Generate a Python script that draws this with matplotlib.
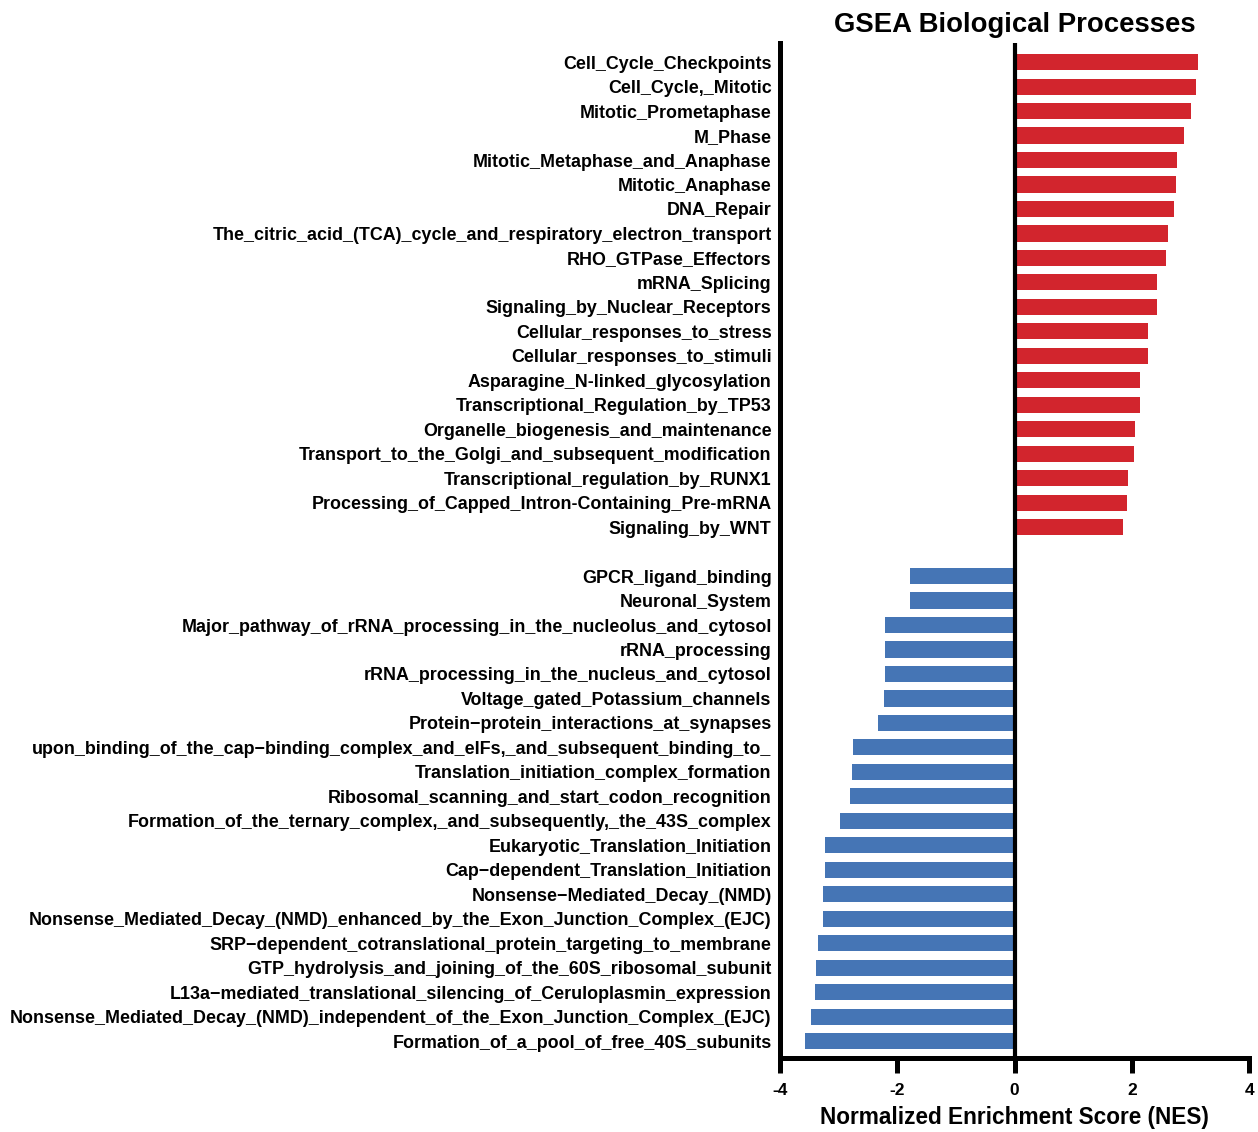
import numpy as np
import matplotlib
matplotlib.use("Agg")
import matplotlib.pyplot as plt

plt.rcParams['font.family'] = ['Liberation Sans', 'DejaVu Sans']
plt.rcParams['font.weight'] = 'bold'

# up-regulated pathways (positive NES)
up_terms = [
    "Cell_Cycle_Checkpoints",
    "Cell_Cycle,_Mitotic",
    "Mitotic_Prometaphase",
    "M_Phase",
    "Mitotic_Metaphase_and_Anaphase",
    "Mitotic_Anaphase",
    "DNA_Repair",
    "The_citric_acid_(TCA)_cycle_and_respiratory_electron_transport",
    "RHO_GTPase_Effectors",
    "mRNA_Splicing",
    "Signaling_by_Nuclear_Receptors",
    "Cellular_responses_to_stress",
    "Cellular_responses_to_stimuli",
    "Asparagine_N-linked_glycosylation",
    "Transcriptional_Regulation_by_TP53",
    "Organelle_biogenesis_and_maintenance",
    "Transport_to_the_Golgi_and_subsequent_modification",
    "Transcriptional_regulation_by_RUNX1",
    "Processing_of_Capped_Intron-Containing_Pre-mRNA",
    "Signaling_by_WNT",
]
up_nes = [3.13, 3.10, 3.01, 2.88, 2.77, 2.76, 2.72, 2.62, 2.58, 2.43,
          2.43, 2.28, 2.28, 2.14, 2.14, 2.06, 2.04, 1.94, 1.92, 1.84]

# down-regulated pathways (negative NES)
down_terms = [
    "GPCR_ligand_binding",
    "Neuronal_System",
    "Major_pathway_of_rRNA_processing_in_the_nucleolus_and_cytosol",
    "rRNA_processing",
    "rRNA_processing_in_the_nucleus_and_cytosol",
    "Voltage_gated_Potassium_channels",
    "Protein\u2212protein_interactions_at_synapses",
    "upon_binding_of_the_cap\u2212binding_complex_and_eIFs,_and_subsequent_binding_to_",
    "Translation_initiation_complex_formation",
    "Ribosomal_scanning_and_start_codon_recognition",
    "Formation_of_the_ternary_complex,_and_subsequently,_the_43S_complex",
    "Eukaryotic_Translation_Initiation",
    "Cap\u2212dependent_Translation_Initiation",
    "Nonsense\u2212Mediated_Decay_(NMD)",
    "Nonsense_Mediated_Decay_(NMD)_enhanced_by_the_Exon_Junction_Complex_(EJC)",
    "SRP\u2212dependent_cotranslational_protein_targeting_to_membrane",
    "GTP_hydrolysis_and_joining_of_the_60S_ribosomal_subunit",
    "L13a\u2212mediated_translational_silencing_of_Ceruloplasmin_expression",
    "Nonsense_Mediated_Decay_(NMD)_independent_of_the_Exon_Junction_Complex_(EJC)",
    "Formation_of_a_pool_of_free_40S_subunits",
]
down_nes = [-1.79, -1.79, -2.21, -2.21, -2.21, -2.23, -2.33, -2.75, -2.77, -2.80,
            -2.97, -3.24, -3.24, -3.27, -3.27, -3.35, -3.38, -3.41, -3.47, -3.58]

red = "#D2252D"
blue = "#4575B5"

n_up = len(up_terms)
y_up = np.arange(n_up)
y_down = np.arange(len(down_terms)) + n_up + 1

fig = plt.figure(figsize=(12.58, 11.32), dpi=100)
ax = fig.add_axes([0.620, 0.0654, 0.373, 0.8966])

ax.barh(y_up, up_nes, height=0.66, color=red, edgecolor="none")
ax.barh(y_down, down_nes, height=0.66, color=blue, edgecolor="none")
ax.axvline(0, color="black", lw=3.0, zorder=3)

ax.set_ylim(y_down[-1] + 0.69, -0.78)
ax.set_xlim(-4, 4)
ax.set_xticks([-4, -2, 0, 2, 4])
ax.set_xticklabels(["-4", "-2", "0", "2", "4"], fontsize=12.5, fontweight="bold")

ax.set_yticks(np.concatenate([y_up, y_down]))
ax.set_yticklabels(up_terms + down_terms, fontsize=12.9, fontweight="bold")
ax.tick_params(axis="y", length=0, pad=6)
ax.tick_params(axis="x", length=11, width=3.6, pad=7)

for side in ["top", "right"]:
    ax.spines[side].set_visible(False)
for side in ["left", "bottom"]:
    ax.spines[side].set_linewidth(3.6)

ax.set_xlabel("Normalized Enrichment Score (NES)", fontsize=16.3, fontweight="bold", labelpad=6)
ax.set_title("GSEA Biological Processes", fontsize=19.8, fontweight="bold", pad=8)

fig.savefig("out.png", dpi=100)
